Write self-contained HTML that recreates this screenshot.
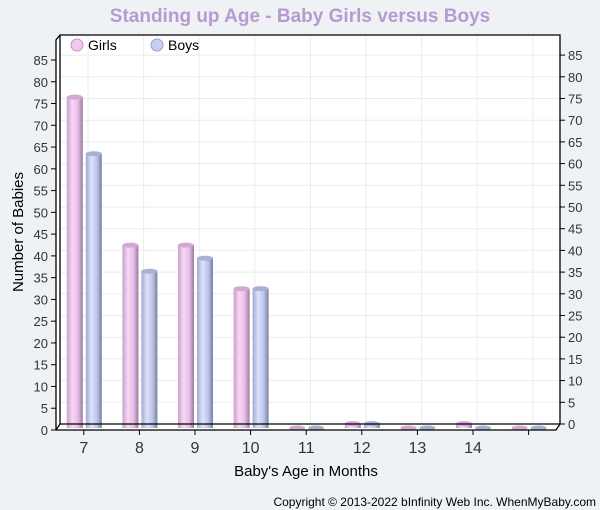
<!DOCTYPE html>
<html><head><style>
body{margin:0;background:#eef2f5;}
svg{display:block;font-family:"Liberation Sans",sans-serif;}
</style></head><body>
<svg width="600" height="510" viewBox="0 0 600 510">
<defs>
<linearGradient id="g" x1="0" x2="1"><stop offset="0" stop-color="#c9a0c9"/><stop offset="0.35" stop-color="#f6d8f6"/><stop offset="0.7" stop-color="#e8bce8"/><stop offset="1" stop-color="#9a7a9a"/></linearGradient>
<linearGradient id="b" x1="0" x2="1"><stop offset="0" stop-color="#a0a8d0"/><stop offset="0.35" stop-color="#dde3fb"/><stop offset="0.7" stop-color="#bcc4ea"/><stop offset="1" stop-color="#7880a0"/></linearGradient>
</defs>
<rect width="600" height="510" fill="#eef2f5"/>
<text x="300" y="22" text-anchor="middle" font-size="19" font-weight="bold" fill="#b89ad0">Standing up Age - Baby Girls versus Boys</text>
<polygon points="56,40 60,35 560,35 560,424 556,430 56,430" fill="#fff"/>
<g stroke="#ebebeb" stroke-width="1" id="grid"></g>
<g id="bars"></g>
<g stroke="#000" stroke-width="1.3" fill="none">
<polyline points="56,430 56,40 60,35 560,35 560,424 556,430 56,430"/>
<line x1="60" y1="35" x2="60" y2="424"/><line x1="60" y1="424" x2="560" y2="424"/><line x1="56" y1="430" x2="60" y2="424"/>
</g>
<g id="axes" font-size="13" fill="#333"></g>
<circle cx="77" cy="45" r="6" fill="#f2c8f0" stroke="#b99ab9"/><text x="88" y="50" font-size="14">Girls</text>
<circle cx="157" cy="45" r="6" fill="#c8d0f2" stroke="#9aa0b9"/><text x="168" y="50" font-size="14">Boys</text>
<text x="306" y="476" text-anchor="middle" font-size="15">Baby's Age in Months</text>
<text transform="translate(23,232) rotate(-90)" text-anchor="middle" font-size="15">Number of Babies</text>
<text x="596" y="506" text-anchor="end" font-size="12">Copyright © 2013-2022 bInfinity Web Inc.   WhenMyBaby.com</text>
<script>
var ns="http://www.w3.org/2000/svg";
function el(t,a,p,txt){var e=document.createElementNS(ns,t);for(var k in a)e.setAttribute(k,a[k]);if(txt!=null)e.textContent=txt;document.getElementById(p).appendChild(e);return e;}
for(var v=5;v<=85;v+=5){var y=424-v*4.34;el('line',{x1:60,y1:y,x2:560,y2:y},'grid');}
for(var k=0;k<9;k++){var x=88+55.6*k;el('line',{x1:x,y1:35,x2:x,y2:424},'grid');}
for(var v=0;v<=85;v+=5){
 var yl=430-v*4.353;el('line',{x1:51,y1:yl,x2:56,y2:yl,stroke:'#000'},'axes');el('text',{x:48,y:yl+5,'text-anchor':'end'},'axes',v);
 var yr=424-v*4.34;el('line',{x1:560,y1:yr,x2:565,y2:yr,stroke:'#000'},'axes');el('text',{x:568,y:yr+5},'axes',v);
}
var labs=[7,8,9,10,11,12,13,14];
for(var k=0;k<9;k++){var c=83.8+55.6*k;el('line',{x1:c,y1:430,x2:c,y2:435,stroke:'#000'},'axes');if(k<8)el('text',{x:c,y:453,'text-anchor':'middle','font-size':16},'axes',labs[k]);}
var G=[76,42,42,32,0,1,0,1,0],B=[63,36,39,32,0,1,0,0,0];
function bar(x,v,f,top){var base=428,y=base-v*4.353;
 if(v>0)el('rect',{x:x,y:y,width:16,height:base-y,fill:f},'bars');
 el('ellipse',{cx:x+8,cy:y,rx:8,ry:2.5,fill:top},'bars');}
for(var k=0;k<9;k++){var c=83.8+55.6*k;bar(c-17,G[k],'url(#g)','#d4a8d4');bar(c+2,B[k],'url(#b)','#a8b0d4');}
</script>
</svg>
</body></html>
